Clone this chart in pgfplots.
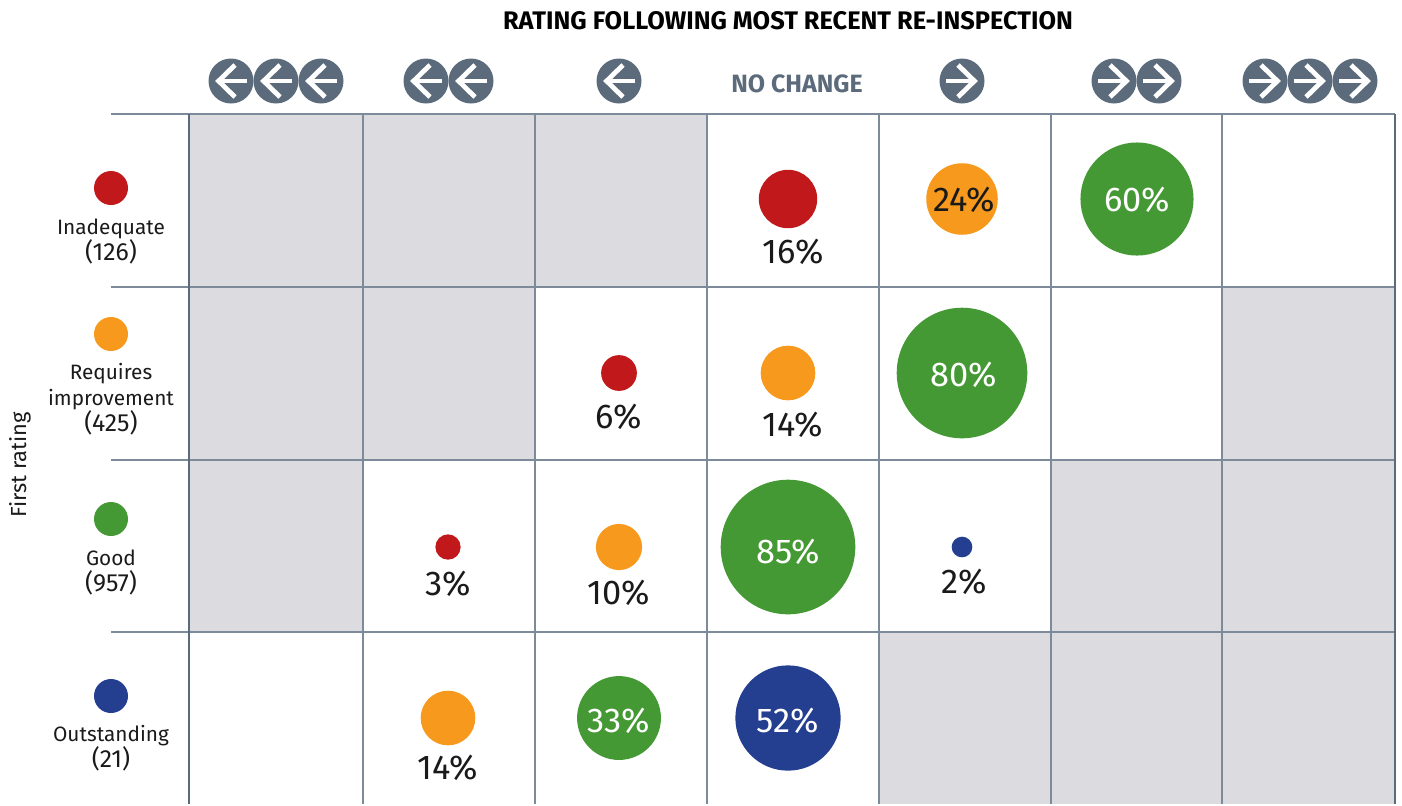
\documentclass[border=0pt]{standalone}
\usepackage{fontspec}
\setmainfont{Fira Sans}[Numbers=Lining]
\usepackage{pgfplots}
\pgfplotsset{compat=1.18}
\definecolor{cRed}{HTML}{C1181B}
\definecolor{cOrange}{HTML}{F6991D}
\definecolor{cGreen}{HTML}{459934}
\definecolor{cBlue}{HTML}{243E90}
\definecolor{cCell}{HTML}{DBDBE0}
\definecolor{cGrid}{HTML}{7C8A99}
\definecolor{cDark}{HTML}{5B6B7B}
\definecolor{cText}{HTML}{1A1A1A}
% arrow icons, sizes in pt (1 px = 0.5 pt)
\pgfdeclareplotmark{arrowleft}{%
  \pgfsetfillcolor{cDark}\pgfpathcircle{\pgfpointorigin}{11.25pt}\pgfusepathqfill
  \pgfsetstrokecolor{white}\pgfsetlinewidth{2.4pt}\pgfsetmiterjoin
  \pgfpathmoveto{\pgfpoint{8pt}{0pt}}\pgfpathlineto{\pgfpoint{-6.2pt}{0pt}}\pgfusepathqstroke
  \pgfpathmoveto{\pgfpoint{2pt}{8pt}}\pgfpathlineto{\pgfpoint{-6.2pt}{0pt}}\pgfpathlineto{\pgfpoint{2pt}{-8pt}}\pgfusepathqstroke}
\pgfdeclareplotmark{arrowright}{%
  \pgfsetfillcolor{cDark}\pgfpathcircle{\pgfpointorigin}{11.25pt}\pgfusepathqfill
  \pgfsetstrokecolor{white}\pgfsetlinewidth{2.4pt}\pgfsetmiterjoin
  \pgfpathmoveto{\pgfpoint{-8pt}{0pt}}\pgfpathlineto{\pgfpoint{6.2pt}{0pt}}\pgfusepathqstroke
  \pgfpathmoveto{\pgfpoint{-2pt}{8pt}}\pgfpathlineto{\pgfpoint{6.2pt}{0pt}}\pgfpathlineto{\pgfpoint{-2pt}{-8pt}}\pgfusepathqstroke}
% filled circle without outline
\pgfdeclareplotmark{disc}{\pgfpathcircle{\pgfpointorigin}{\pgfplotmarksize}\pgfusepathqfill}
\pgfplotsset{
  bubble/.style={scatter, only marks, mark=disc, scatter src=x,
    scatter/use mapped color={fill=#1},
    visualization depends on={3.65*sqrt(\thisrow{p}) \as \rr},
    scatter/@pre marker code/.append style={/tikz/mark size=\rr}},
  key/.style={only marks, mark=disc, mark size=8.5pt, mark options={fill=#1}},
  grid line/.style={cGrid, line width=0.7pt},
  edge line/.style={cDark, line width=1.1pt},
}
\newcommand{\pct}[4][cText]{\node[text=#1, font=\fontsize{17.2}{19}\selectfont, inner sep=0pt] at (axis cs:#2,#3) {#4\%};}
\newcommand{\rowlab}[3]{\node[text=cText, font=\fontsize{10.4}{13}\selectfont, align=center, inner sep=0pt, anchor=north] at (axis cs:#1,#2) {#3};}
\newcommand{\num}[1]{{\fontsize{12.4}{13}\selectfont #1}}
\begin{document}
\begin{tikzpicture}
\begin{axis}[
    hide axis, clip=false, scale only axis,
    x=0.5pt, y=0.5pt, xmin=0, xmax=1402, ymin=0, ymax=804, y dir=reverse,
    after end axis/.code={
      % bubble labels
      \pct{793}{252}{16}
      \pct{964}{200}{24}
      \pct[white]{1137}{200}{60}
      \pct{619}{417}{6}
      \pct{793}{425}{14}
      \pct[white]{964}{375}{80}
      \pct{448}{584}{3}
      \pct{619}{593}{10}
      \pct[white]{788}{552}{85}
      \pct{964}{582}{2}
      \pct{448}{768}{14}
      \pct[white]{619}{721}{33}
      \pct[white]{788}{721}{52}
    },
]
\path (axis cs:0,0) rectangle (axis cs:1402,804);
% cells with no possible move
\addplot[fill=cCell, draw=none] coordinates {(189,114)(707,114)(707,287)(535,287)(535,460)(363,460)(363,632)(189,632)} -- cycle;
\addplot[fill=cCell, draw=none] coordinates {(1222,287)(1395,287)(1395,632)(1051,632)(1051,460)(1222,460)} -- cycle;
\addplot[fill=cCell, draw=none] coordinates {(879,632)(1395,632)(1395,804)(879,804)} -- cycle;
% grid
\addplot[grid line] coordinates {(111,114)(1395,114)};
\addplot[grid line] coordinates {(111,287)(1395,287)};
\addplot[grid line] coordinates {(111,460)(1395,460)};
\addplot[grid line] coordinates {(111,632)(1395,632)};
\addplot[grid line] coordinates {(363,114)(363,804)};
\addplot[grid line] coordinates {(535,114)(535,804)};
\addplot[grid line] coordinates {(707,114)(707,804)};
\addplot[grid line] coordinates {(879,114)(879,804)};
\addplot[grid line] coordinates {(1051,114)(1051,804)};
\addplot[grid line] coordinates {(1222,114)(1222,804)};
\addplot[edge line] coordinates {(189,114)(189,804)};
\addplot[edge line] coordinates {(1395,114)(1395,804)};
% header icons
\addplot[only marks, mark=arrowleft] coordinates {(231,81)(276,81)(321,81)(426,81)(471,81)(619,81)};
\addplot[only marks, mark=arrowright] coordinates {(962,81)(1114,81)(1159,81)(1265,81)(1310,81)(1355,81)};
% row keys
\addplot[key=cRed] coordinates {(111,188)};
\addplot[key=cOrange] coordinates {(111,334)};
\addplot[key=cGreen] coordinates {(111,519)};
\addplot[key=cBlue] coordinates {(111,696)};
% bubbles, area follows the percentage
\addplot[bubble=cRed] table {
x y p
788 199 16
619 373 6
448 547 3
};
\addplot[bubble=cOrange] table {
x y p
962 199 24
788 373 14
619 547 10
448 718 14
};
\addplot[bubble=cGreen] table {
x y p
1137 199 60
962 373 80
788 547 85
619 718 33
};
\addplot[bubble=cBlue] table {
x y p
962 547 2
788 718 52
};
% text
\node[font=\fontsize{12.7}{14}\bfseries, text=black, inner sep=0pt] at (axis cs:788,21) {RATING FOLLOWING MOST RECENT RE-INSPECTION};
\node[font=\fontsize{12.5}{14}\bfseries, text=cDark, inner sep=0pt] at (axis cs:797,84) {NO CHANGE};
\node[font=\fontsize{10.9}{13}\selectfont, text=cText, rotate=90, inner sep=0pt] at (axis cs:20,465) {First rating};
\rowlab{111}{218}{Inadequate\\\num{(126)}}
\rowlab{111}{363}{Requires\\improvement\\\num{(425)}}
\rowlab{111}{549}{Good\\\num{(957)}}
\rowlab{111}{725}{Outstanding\\\num{(21)}}
\end{axis}
\end{tikzpicture}
\end{document}
